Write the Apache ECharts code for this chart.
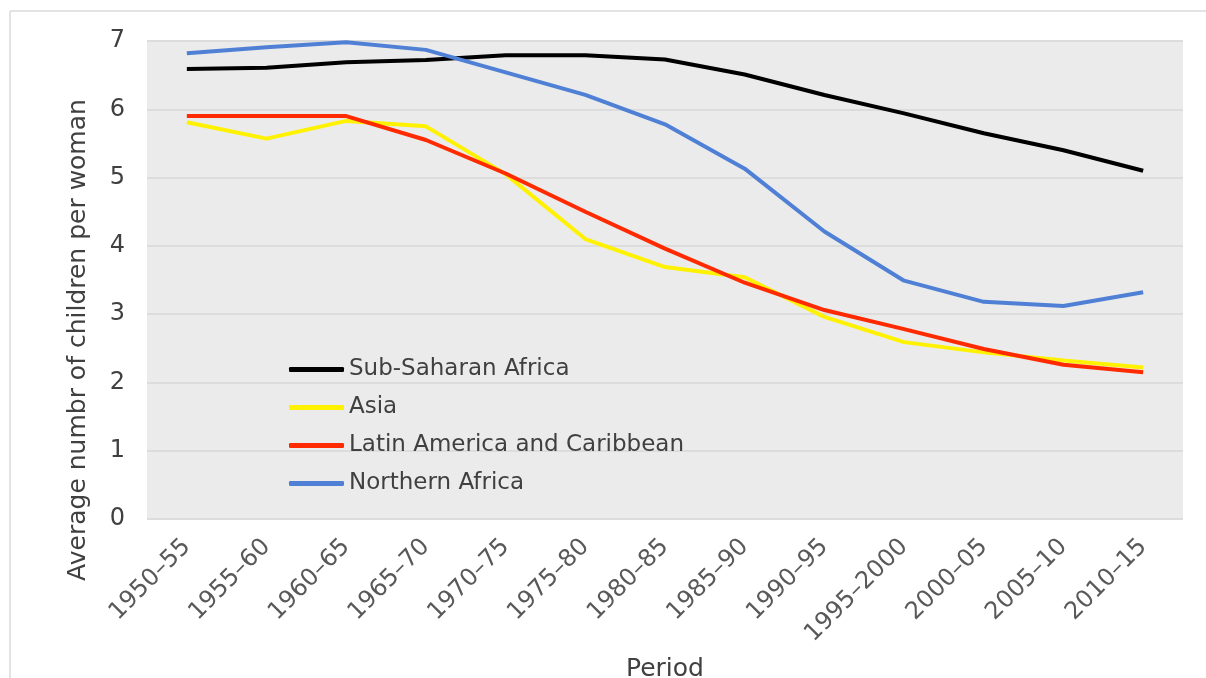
<!DOCTYPE html>
<html>
<head>
<meta charset="utf-8">
<script src="https://cdn.jsdelivr.net/npm/echarts@6/dist/echarts.min.js"></script>
<style>
  html, body { margin: 0; padding: 0; background: #fff; }
  #chart { width: 1206px; height: 678px; }
</style>
</head>
<body>
<div id="chart"></div>
<script>
// 数据
const periods = ["1950–55", "1955–60", "1960–65", "1965–70", "1970–75", "1975–80", "1980–85",
  "1985–90", "1990–95", "1995–2000", "2000–05", "2005–10", "2010–15"];
const subSaharan = [6.59, 6.61, 6.69, 6.72, 6.79, 6.79, 6.73, 6.51, 6.21, 5.94, 5.65, 5.40, 5.10];
const asia = [5.81, 5.57, 5.83, 5.75, 5.05, 4.10, 3.69, 3.54, 2.96, 2.59, 2.44, 2.32, 2.22];
const latinAmerica = [5.90, 5.90, 5.90, 5.55, 5.06, 4.50, 3.96, 3.46, 3.06, 2.78, 2.49, 2.26, 2.15];
const northernAfrica = [6.82, 6.91, 6.98, 6.87, 6.54, 6.21, 5.78, 5.13, 4.21, 3.49, 3.18, 3.12, 3.32];

const font = "DejaVu Sans";

function makeLine(name, data, color) {
  return {
    name: name,
    type: "line",
    data: data,
    symbol: "none",
    lineStyle: { color: color, width: 4 },
    itemStyle: { color: color },
  };
}

let myChart = echarts.init(document.getElementById("chart"));
let option = {
  animation: false,
  textStyle: { fontFamily: font },
  // 外框（只看得到上边和左边）
  graphic: [
    {
      type: "line",
      shape: { x1: 10, y1: 11, x2: 1206, y2: 11 },
      style: { stroke: "#e3e3e3", lineWidth: 2 },
      silent: true,
    },
    {
      type: "line",
      shape: { x1: 10, y1: 11, x2: 10, y2: 678 },
      style: { stroke: "#e3e3e3", lineWidth: 2 },
      silent: true,
    },
  ],
  grid: {
    left: 147,
    right: 23,
    top: 41,
    bottom: 159,
    show: true,
    backgroundColor: "#ebebeb",
    borderWidth: 0,
    containLabel: false,
    outerBoundsMode: "none",
  },
  legend: {
    orient: "vertical",
    left: 289,
    top: 357,
    padding: 0,
    icon: "roundRect",
    itemWidth: 55,
    itemHeight: 5,
    itemGap: 13,
    textStyle: { fontFamily: font, fontSize: 23, color: "#404040", lineHeight: 25 },
    data: ["Sub-Saharan Africa", "Asia", "Latin America and Caribbean", "Northern Africa"],
  },
  xAxis: {
    type: "category",
    data: periods,
    boundaryGap: true,
    name: "Period",
    nameLocation: "middle",
    nameGap: 138,
    nameTextStyle: { fontFamily: font, fontSize: 25, color: "#404040" },
    axisLine: { show: false },
    axisTick: { show: false },
    axisLabel: {
      rotate: 45,
      margin: 24,
      interval: 0,
      fontFamily: font,
      fontSize: 24,
      color: "#595959",
    },
  },
  yAxis: {
    type: "value",
    min: 0,
    max: 7,
    interval: 1,
    name: "Average numbr of children per woman",
    nameLocation: "middle",
    nameGap: 56,
    nameTextStyle: { fontFamily: font, fontSize: 25, color: "#404040", padding: [0, 120, 0, 0] },
    axisLine: { show: false },
    axisTick: { show: false },
    axisLabel: { margin: 22, fontFamily: font, fontSize: 24, color: "#404040" },
    splitLine: { show: true, lineStyle: { color: "#dcdcdc", width: 2 } },
  },
  series: [
    makeLine("Sub-Saharan Africa", subSaharan, "#000000"),
    makeLine("Asia", asia, "#fff200"),
    makeLine("Latin America and Caribbean", latinAmerica, "#ff2a00"),
    makeLine("Northern Africa", northernAfrica, "#4f80d5"),
  ],
};
myChart.setOption(option);
</script>
</body>
</html>
